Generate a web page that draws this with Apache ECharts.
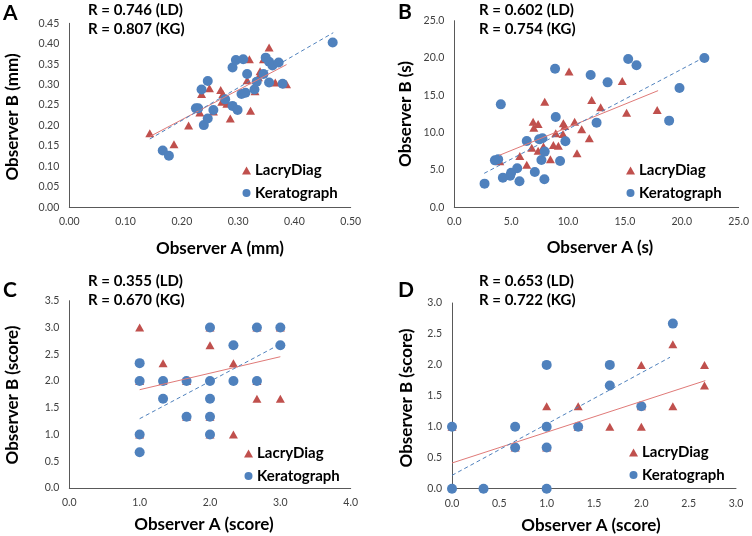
<!DOCTYPE html>
<html><head><meta charset="utf-8">
<script src="https://cdn.jsdelivr.net/npm/echarts@6/dist/echarts.min.js"></script>
<style>html,body{margin:0;padding:0;background:#fff;}#c{width:752px;height:536px;}</style>
</head><body><div id="c"></div>
<script>
// ---------- Data ----------
// Panel A: tear meniscus height (mm)
const ldA = [[0.143,0.181],[0.186,0.154],[0.212,0.200],[0.232,0.232],[0.235,0.277],[0.249,0.291],[0.256,0.234],[0.269,0.287],[0.273,0.277],[0.271,0.258],[0.280,0.253],[0.286,0.217],[0.320,0.362],[0.316,0.311],[0.322,0.236],[0.330,0.284],[0.336,0.318],[0.339,0.333],[0.355,0.391],[0.345,0.362],[0.366,0.305],[0.386,0.301]];
const kgA = [[0.166,0.139],[0.177,0.126],[0.225,0.242],[0.229,0.242],[0.235,0.288],[0.246,0.309],[0.239,0.201],[0.246,0.217],[0.256,0.238],[0.277,0.264],[0.290,0.342],[0.290,0.248],[0.296,0.360],[0.299,0.238],[0.309,0.362],[0.306,0.277],[0.313,0.280],[0.316,0.326],[0.329,0.288],[0.333,0.307],[0.345,0.326],[0.349,0.366],[0.355,0.356],[0.361,0.347],[0.372,0.354],[0.355,0.305],[0.379,0.302],[0.468,0.403]];
const ldTrendA = [[0.143,0.173],[0.386,0.349]];
const kgTrendA = [[0.143,0.167],[0.469,0.427]];
const rTextA = ['R = 0.746 (LD)','R = 0.807 (KG)'];

// Panel B: break-up time (s)
const ldB = [[4.0,6.16],[5.76,6.88],[6.37,5.71],[6.81,7.99],[6.93,11.47],[6.99,10.67],[7.37,11.16],[7.37,7.59],[7.95,14.15],[7.84,8.13],[8.45,6.43],[8.71,8.35],[8.92,9.91],[9.15,8.26],[9.56,9.82],[9.59,11.25],[9.71,10.89],[10.09,18.21],[10.58,11.47],[10.79,7.23],[11.20,10.45],[11.87,9.24],[12.08,14.38],[12.87,13.39],[14.77,16.92],[15.15,12.68],[17.84,13.04]];
const kgB = [[2.66,3.17],[3.57,6.29],[3.86,6.43],[4.09,13.79],[4.27,3.97],[4.91,4.24],[5.0,4.64],[5.53,5.22],[5.73,3.48],[6.37,8.88],[7.08,4.73],[7.46,9.11],[7.75,9.24],[7.66,6.34],[7.95,7.46],[7.92,3.75],[8.86,18.57],[8.92,12.10],[9.30,6.21],[9.77,8.84],[11.99,17.72],[12.51,11.34],[13.48,16.74],[15.29,19.87],[16.02,19.02],[18.89,11.61],[19.80,15.98],[21.99,20.0]];
const ldTrendB = [[3.95,6.96],[17.92,15.63]];
const kgTrendB = [[2.63,4.55],[22.08,20.18]];
const rTextB = ['R = 0.602 (LD)','R = 0.754 (KG)'];

// Panel C: score
const ldC = [[1,3.0],[1.333,2.333],[2,2.667],[2.333,2.333],[2.333,1.0],[2.667,1.667],[3,1.667],[1,2.0],[1.333,2.0],[1.667,2.0],[2,3.0],[2.667,3.0],[3,3.0],[2.667,2.0],[1.667,1.333],[2,1.333],[1,1.0],[2,1.0]];
const kgC = [[1,2.333],[1,2.0],[1,1.0],[1,0.667],[1.333,2.0],[1.333,1.667],[1.667,2.0],[1.667,1.333],[2,3.0],[2,2.0],[2,1.667],[2,1.333],[2,1.0],[2.333,2.667],[2.333,2.0],[2.667,3.0],[2.667,2.0],[3,3.0],[3,2.667]];
const ldTrendC = [[1,1.837],[3,2.453]];
const kgTrendC = [[1,1.295],[3,2.69]];
const rTextC = ['R = 0.355 (LD)','R = 0.670 (KG)'];

// Panel D: score
const ldD = [[1,1.333],[1.333,1.333],[1.667,1.0],[2,2.0],[2,1.0],[2.333,2.333],[2.333,1.333],[2.667,2.0],[2.667,1.667],[0,1.0],[0.667,0.667],[1.333,1.0],[2,1.333],[1,0.667]];
const kgD = [[0,1.0],[0,0],[0.333,0],[0.667,1.0],[0.667,0.667],[1,2.0],[1,1.0],[1,0.667],[1,0],[1.333,1.0],[1.667,2.0],[1.667,1.667],[2,1.333],[2.333,2.667]];
const ldTrendD = [[0,0.415],[2.676,1.746]];
const kgTrendD = [[0,0.216],[2.303,2.123]];
const rTextD = ['R = 0.653 (LD)','R = 0.722 (KG)'];

// Axis ranges / tick steps
const xRange = [[0,0.5,0.1,2],[0,25,5,1],[0,4,1,1],[0,3,0.5,1]];
const yRange = [[0,0.45,0.05,2],[0,25,5,1],[0,3.5,0.5,1],[0,3,0.5,1]];
const panelLetters = ['A','B','C','D'];
const xTitles = ['Observer A (mm)','Observer A (s)','Observer A (score)','Observer A (score)'];
const yTitles = ['Observer B (mm)','Observer B (s)','Observer B (score)','Observer B (score)'];
const seriesNames = ['LacryDiag','Keratograph'];

// ---------- Layout ----------
const RED = '#C0504D', BLUE = '#4F81BD';
const FONT = 'Lato';
const grids = [
  {left:69.3, top:23.3, width:281.4, height:184},
  {left:454.3, top:20.7, width:285, height:186.6},
  {left:69.3, top:300.7, width:281.4, height:187.3},
  {left:452, top:303, width:284, height:185.7}
];
const letterPos = [[3,13],[398,12],[3,290],[398,290]];
const rPos = [[88,10,29],[479,10,29],[88,281,300],[479,281,300]];
const xTitlePos = [[220,249],[600,248],[204,525],[591,526]];
const yTitlePos = [[12.5,117],[406,114],[12.5,395],[407,398]];
const legendPos = [[237,158],[621,158],[239,441],[624,440]];

const allLD = [ldA, ldB, ldC, ldD];
const allKG = [kgA, kgB, kgC, kgD];
const allLDT = [ldTrendA, ldTrendB, ldTrendC, ldTrendD];
const allKGT = [kgTrendA, kgTrendB, kgTrendC, kgTrendD];
const allR = [rTextA, rTextB, rTextC, rTextD];

const xAxis = [], yAxis = [], series = [], graphic = [], legend = [];
for (let i = 0; i < 4; i++) {
  const xr = xRange[i], yr = yRange[i];
  xAxis.push({type:'value', gridIndex:i, min:xr[0], max:xr[1], interval:xr[2],
    splitLine:{show:false}, axisTick:{show:false},
    axisLine:{show:true, onZero:false, lineStyle:{color:'#595959', width:1}},
    axisLabel:{fontFamily:FONT, fontSize:10.5, color:'#404040', margin:9,
      formatter: (v) => v.toFixed(xr[3])}});
  yAxis.push({type:'value', gridIndex:i, min:yr[0], max:yr[1], interval:yr[2],
    splitLine:{show:false}, axisTick:{show:false},
    axisLine:{show:true, onZero:false, lineStyle:{color:'#595959', width:1}},
    axisLabel:{fontFamily:FONT, fontSize:10.5, color:'#404040', margin:10,
      formatter: (v) => v.toFixed(yr[3])}});
  series.push({name:'LacryDiag', type:'scatter', xAxisIndex:i, yAxisIndex:i, symbol:'triangle', symbolSize:[9,8],
    itemStyle:{color:RED, opacity:1}, data:allLD[i], z:2});
  series.push({name:'Keratograph', type:'scatter', xAxisIndex:i, yAxisIndex:i, symbol:'circle', symbolSize:10,
    itemStyle:{color:BLUE, opacity:1}, data:allKG[i], z:3});
  series.push({name:'ldTrend', type:'line', xAxisIndex:i, yAxisIndex:i, symbol:'none', silent:true,
    lineStyle:{color:'#E07A78', width:1}, data:allLDT[i], z:4});
  series.push({name:'kgTrend', type:'line', xAxisIndex:i, yAxisIndex:i, symbol:'none', silent:true,
    lineStyle:{color:'#4F81BD', width:1, type:[4,3]}, data:allKGT[i], z:5});
  legend.push({left:legendPos[i][0], top:legendPos[i][1], orient:'vertical', itemGap:7.5, itemWidth:9, itemHeight:8,
    selectedMode:false,
    textStyle:{fontFamily:FONT, fontWeight:'bold', fontSize:15, color:'#000', padding:[0,0,0,-1]},
    data:[{name:'LacryDiag', icon:'triangle', itemStyle:{opacity:1}},{name:'Keratograph', icon:'circle', itemStyle:{opacity:1}}]});
  graphic.push({type:'text', left:letterPos[i][0], top:letterPos[i][1]-10,
    style:{text:panelLetters[i], font:'bold 21px '+FONT, fill:'#000'}});
  graphic.push({type:'text', x:rPos[i][0], y:rPos[i][1],
    style:{text:allR[i][0], font:'bold 15px '+FONT, fill:'#000', verticalAlign:'middle'}});
  graphic.push({type:'text', x:rPos[i][0], y:rPos[i][2],
    style:{text:allR[i][1], font:'bold 15px '+FONT, fill:'#000', verticalAlign:'middle'}});
  graphic.push({type:'text', x:xTitlePos[i][0], y:xTitlePos[i][1],
    style:{text:xTitles[i], font:'bold 17px '+FONT, fill:'#000', align:'center', verticalAlign:'middle'}});
  graphic.push({type:'text', x:yTitlePos[i][0], y:yTitlePos[i][1], rotation:Math.PI/2,
    style:{text:yTitles[i], font:'bold 17px '+FONT, fill:'#000', align:'center', verticalAlign:'middle'}});
}

const chart = echarts.init(document.getElementById('c'), null, {renderer:'canvas'});
chart.setOption({
  animation:false,
  backgroundColor:'#fff',
  grid: grids,
  xAxis, yAxis, series, legend, graphic
});
</script>
</body></html>
